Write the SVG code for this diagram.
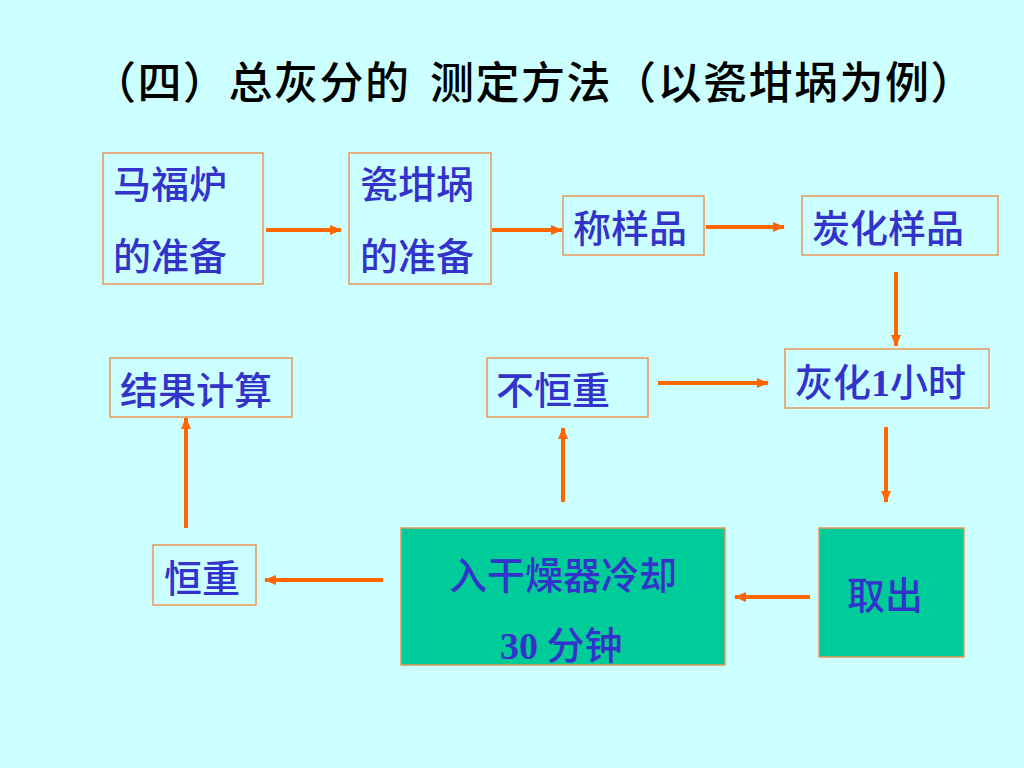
<svg xmlns="http://www.w3.org/2000/svg" width="1024" height="768" viewBox="0 0 1024 768">
<defs>
<marker id="ah" markerWidth="12" markerHeight="10" refX="11" refY="5" orient="auto" markerUnits="userSpaceOnUse">
<path d="M0,0 L12,5 L0,10 Z" fill="#FF6600"/>
</marker>
<style>
.box{fill:none;stroke:#E8975A;stroke-width:1.5}
.gbox{fill:#00CC99;stroke:#E8975A;stroke-width:1.5}
.t{font-family:"Noto Sans CJK SC","Liberation Sans",sans-serif;font-size:38px;font-weight:500;fill:#3333CC}
.title{font-family:"Noto Sans CJK SC","Liberation Sans",sans-serif;font-size:44px;font-weight:500;fill:#000;letter-spacing:1.5px}
.c{stroke:#FF6600;stroke-width:4;fill:none;marker-end:url(#ah)}
.num{font-family:"Liberation Serif",serif;font-weight:bold}
</style>
</defs>
<rect width="1024" height="768" fill="#CCFFFF"/>
<text class="title" y="99"><tspan x="92">（四）总灰分的</tspan><tspan x="430">测定方法（以瓷坩埚为例）</tspan></text>

<g id="n1"><rect class="box" x="103" y="153" width="160" height="131"/>
<text class="t" x="113" y="198">马福炉</text><text class="t" x="113" y="270">的准备</text></g>
<g id="n2"><rect class="box" x="349" y="153" width="142" height="131"/>
<text class="t" x="360" y="198">瓷坩埚</text><text class="t" x="360" y="270">的准备</text></g>
<g id="n3"><rect class="box" x="563" y="196" width="141" height="59"/>
<text class="t" x="573" y="242">称样品</text></g>
<g id="n4"><rect class="box" x="802" y="196" width="196" height="59"/>
<text class="t" x="812" y="242">炭化样品</text></g>
<g id="n5"><rect class="box" x="785" y="349" width="204" height="59"/>
<text class="t" x="795" y="396">灰化<tspan class="num">1</tspan>小时</text></g>
<g id="n6"><rect class="box" x="487" y="358" width="161" height="59"/>
<text class="t" x="496" y="404">不恒重</text></g>
<g id="n7"><rect class="box" x="110" y="358" width="182" height="59"/>
<text class="t" x="120" y="404">结果计算</text></g>
<g id="n8"><rect class="gbox" x="401" y="528" width="324" height="137"/>
<text class="t" x="449" y="589">入干燥器冷却</text><text class="t" x="500" y="659"><tspan class="num">30</tspan> 分钟</text></g>
<g id="n9"><rect class="gbox" x="819" y="528" width="145" height="129"/>
<text class="t" x="847" y="609">取出</text></g>
<g id="n10"><rect class="box" x="153" y="545" width="103" height="60"/>
<text class="t" x="164" y="592">恒重</text></g>

<g id="connectors">
<line class="c" x1="266" y1="230" x2="341" y2="230"/>
<line class="c" x1="492" y1="230" x2="562" y2="230"/>
<line class="c" x1="706" y1="227" x2="784" y2="227"/>
<line class="c" x1="896" y1="272" x2="896" y2="346"/>
<line class="c" x1="658" y1="383" x2="768" y2="383"/>
<line class="c" x1="886" y1="427" x2="886" y2="502"/>
<line class="c" x1="810" y1="597" x2="735" y2="597"/>
<line class="c" x1="383" y1="580" x2="265" y2="580"/>
<line class="c" x1="563" y1="502" x2="563" y2="428"/>
<line class="c" x1="186" y1="528" x2="186" y2="418"/>
</g>
</svg>
